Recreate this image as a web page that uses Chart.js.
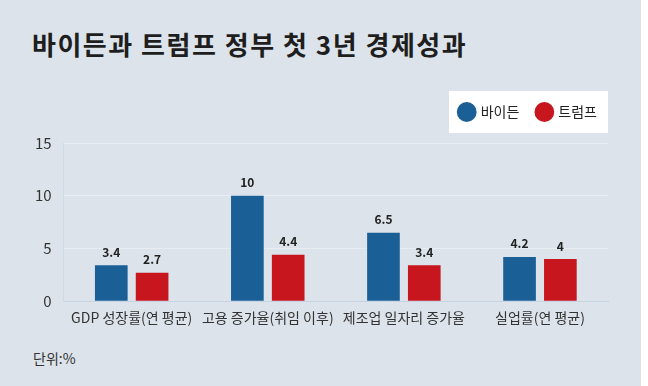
<!DOCTYPE html>
<html>
<head>
<meta charset="utf-8">
<script src="https://cdn.jsdelivr.net/npm/chart.js@4/dist/chart.umd.min.js"></script>
<style>
    html, body {
        margin: 0;
        padding: 0;
        width: 648px;
        height: 386px;
        overflow: hidden;
        background: #ffffff;
        font-family: "Noto Sans CJK KR", "Noto Sans", sans-serif;
    }
    #panel {
        position: absolute;
        left: 0;
        top: 0;
        width: 641px;
        height: 386px;
        background: #dce3ea;
    }
    #title {
        position: absolute;
        left: 32px;
        top: 25px;
        margin: 0;
        font-size: 26px;
        font-weight: 700;
        letter-spacing: 1.5px;
        color: #1e1e1e;
    }
    #unit {
        position: absolute;
        left: 33px;
        top: 348px;
        font-size: 14px;
        color: #333;
    }
    #wrap {
        position: absolute;
        left: 0;
        top: 80px;
        width: 641px;
        height: 246px;
    }
</style>
</head>
<body>
<div id="panel">
    <h1 id="title">바이든과 트럼프 정부 첫 3년 경제성과</h1>
    <div id="wrap"><canvas id="econChart"></canvas></div>
    <div id="unit">단위:%</div>
</div>
<script>
// chart data
const categories = [
    "GDP 성장률(연 평균)",
    "고용 증가율(취임 이후)",
    "제조업 일자리 증가율",
    "실업률(연 평균)"
];
const seriesNames = ["바이든", "트럼프"];
const bidenValues = [3.4, 10, 6.5, 4.2];
const trumpValues = [2.7, 4.4, 3.4, 4];
const yTicks = [0, 5, 10, 15];

const colors = ["#1b5f97", "#c8161e"];

// extra space under the legend, nudge it right, white box behind it
const legendBox = {
    id: "legendBox",
    beforeInit(chart) {
        const fit = chart.legend.fit;
        chart.legend.fit = function () {
            fit.call(this);
            this.height += 14;
        };
    },
    afterLayout(chart) {
        chart.legend.left += 7;
        chart.legend.right += 7;
    },
    beforeDraw(chart) {
        const ctx = chart.ctx;
        const right = chart.chartArea.right;
        ctx.save();
        ctx.fillStyle = "#ffffff";
        ctx.fillRect(right - 159, chart.legend.top + 4, 159, 42);
        ctx.restore();
    }
};

// value labels above bars
const valueLabels = {
    id: "valueLabels",
    afterDatasetsDraw(chart) {
        const ctx = chart.ctx;
        ctx.save();
        ctx.font = "bold 12px 'Noto Sans CJK KR', sans-serif";
        ctx.fillStyle = "#222";
        ctx.textAlign = "center";
        ctx.textBaseline = "bottom";
        chart.data.datasets.forEach((ds, i) => {
            chart.getDatasetMeta(i).data.forEach((bar, j) => {
                ctx.fillText(String(ds.data[j]), bar.x, bar.y - 7);
            });
        });
        ctx.restore();
    }
};

new Chart(document.getElementById("econChart"), {
    type: "bar",
    data: {
        labels: categories,
        datasets: [
            { label: seriesNames[0], data: bidenValues, backgroundColor: colors[0] },
            { label: seriesNames[1], data: trumpValues, backgroundColor: colors[1] }
        ]
    },
    options: {
        responsive: true,
        maintainAspectRatio: false,
        animation: false,
        categoryPercentage: 0.6,
        barPercentage: 0.8,
        layout: { padding: { top: 7, right: 33, left: 23, bottom: 0 } },
        plugins: {
            legend: {
                position: "top",
                align: "end",
                labels: {
                    usePointStyle: true,
                    pointStyle: "circle",
                    boxWidth: 14,
                    boxHeight: 14,
                    padding: 18,
                    color: "#222",
                    font: { family: "'Noto Sans CJK KR', sans-serif", size: 14 }
                }
            },
            tooltip: { enabled: false }
        },
        scales: {
            x: {
                grid: { display: false },
                border: { color: "#c6d3e2" },
                ticks: {
                    color: "#333",
                    padding: 0,
                    maxRotation: 0,
                    minRotation: 0,
                    autoSkip: false,
                    font: { family: "'Noto Sans CJK KR', sans-serif", size: 14 }
                }
            },
            y: {
                min: 0,
                max: 15,
                afterBuildTicks(axis) {
                    axis.ticks = yTicks.map((v) => ({ value: v }));
                },
                grid: { color: "#e8edf2", drawTicks: false },
                border: { color: "#cfdae6" },
                ticks: {
                    color: "#333",
                    padding: 12,
                    font: { family: "'Noto Sans CJK KR', sans-serif", size: 15 }
                }
            }
        }
    },
    plugins: [legendBox, valueLabels]
});
</script>
</body>
</html>
